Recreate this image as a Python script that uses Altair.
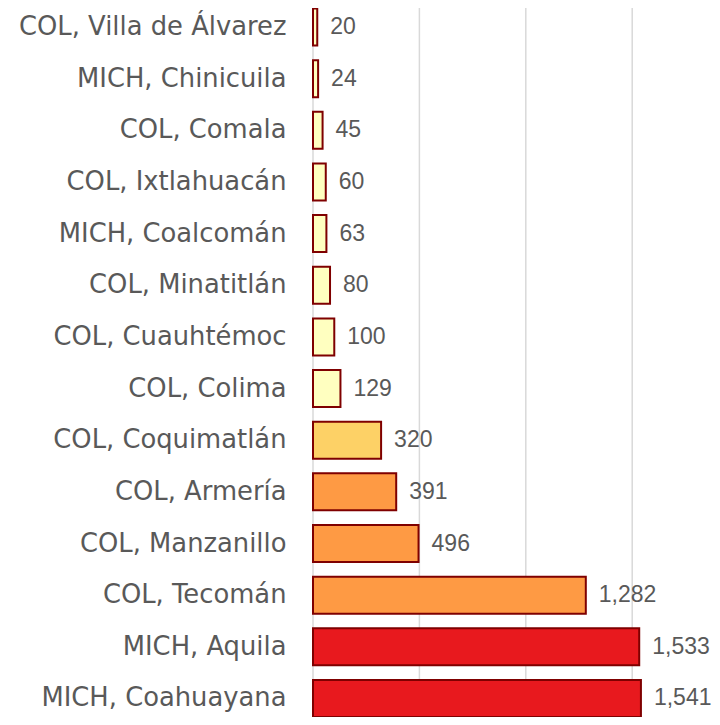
import altair as alt
import pandas as pd

categories = [
    "COL, Villa de Álvarez", "MICH, Chinicuila", "COL, Comala", "COL, Ixtlahuacán",
    "MICH, Coalcomán", "COL, Minatitlán", "COL, Cuauhtémoc", "COL, Colima",
    "COL, Coquimatlán", "COL, Armería", "COL, Manzanillo", "COL, Tecomán",
    "MICH, Aquila", "MICH, Coahuayana",
]
values = [20, 24, 45, 60, 63, 80, 100, 129, 320, 391, 496, 1282, 1533, 1541]
grid_values = [0, 500, 1000, 1500]

df = pd.DataFrame({"cat": categories, "val": values})
grid = pd.DataFrame({"g": grid_values})

FONT = "DejaVu Sans"
VFONT = "Liberation Sans"
H = 709
W = 399
xs = alt.Scale(domain=[0, 1875], nice=False, zero=True)
ys = alt.Scale(domain=categories, range=[-6.83, 716.3], paddingInner=0.2837, paddingOuter=0.1418)

rules = alt.Chart(grid).mark_rule(color="#D9D9D9", strokeWidth=1.5).encode(
    x=alt.X("g:Q", scale=xs, axis=None),
    y=alt.value(-8),
    y2=alt.value(H),
)

bars = alt.Chart(df).mark_bar(stroke="#7F0000", strokeWidth=2).encode(
    x=alt.X("val:Q", scale=xs, axis=None),
    y=alt.Y("cat:N", scale=ys, sort=categories, title=None,
            axis=alt.Axis(domain=False, ticks=False, labelPadding=27, labelFont=FONT,
                          labelFontSize=25.8, labelColor="#595959", labelLimit=400)),
    color=alt.Color("val:Q", legend=None,
                    scale=alt.Scale(type="threshold", domain=[200, 350, 1500],
                                    range=["#FFFFC0", "#FDD166", "#FE9A44", "#E8191E"])),
)

labels = alt.Chart(df).mark_text(align="left", baseline="middle", dx=13, font=VFONT,
                                 fontSize=23, color="#595959").encode(
    x=alt.X("val:Q", scale=xs),
    y=alt.Y("cat:N", scale=ys, sort=categories),
    text=alt.Text("val:Q", format=","),
)

chart = alt.layer(rules, bars, labels).properties(
    width=W, height=H,
    autosize=alt.AutoSizeParams(type="none"),
    padding={"left": 305, "top": 0, "right": 0, "bottom": 0},
    background="white",
).configure_view(stroke=None)

chart.save("out.html", embed_options={"renderer": "svg", "actions": False})
